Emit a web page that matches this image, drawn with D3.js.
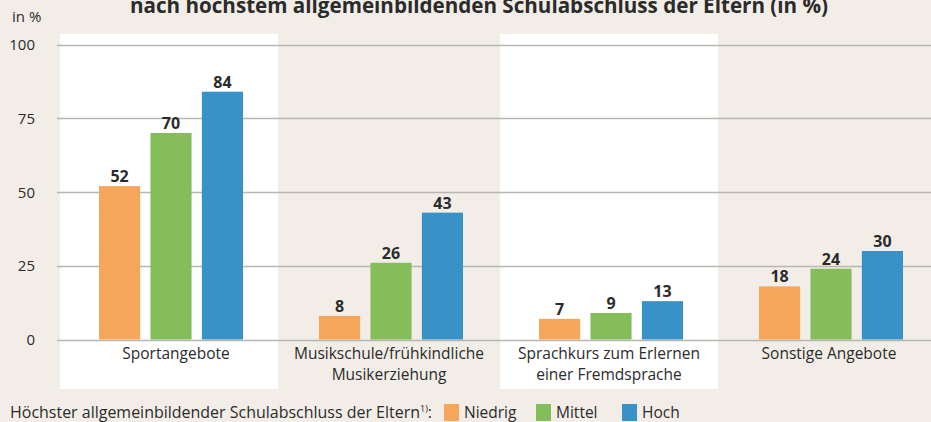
<!DOCTYPE html>
<html><head><meta charset="utf-8">
<script src="https://cdn.jsdelivr.net/npm/d3@7"></script>
<style>
html,body{margin:0;padding:0;background:#f2eee7;}
svg{display:block;}
text{font-family:"Open Sans","Noto Sans",sans-serif;fill:#2b2b2b;}
</style></head><body>
<svg id="c" width="931" height="422"></svg>
<script>
const categories = [["Sportangebote"],["Musikschule/frühkindliche","Musikerziehung"],["Sprachkurs zum Erlernen","einer Fremdsprache"],["Sonstige Angebote"]];
const seriesNames = ["Niedrig","Mittel","Hoch"];
const niedrig = [52, 8, 7, 18];
const mittel = [70, 26, 9, 24];
const hoch = [84, 43, 13, 30];
const yTicks = [0, 25, 50, 75, 100];
const colors = ["#f5a65a", "#84bd59", "#3891c7"];
const titleText = "nach höchstem allgemeinbildenden Schulabschluss der Eltern (in %)";
const legendTitle = "Höchster allgemeinbildender Schulabschluss der Eltern";

const series = [niedrig, mittel, hoch];
const svg = d3.select("#c");
const W = 931;

const x0 = d3.scaleBand().domain(d3.range(categories.length)).range([60, 940]).paddingInner(0).paddingOuter(0);
const y = d3.scaleLinear().domain([0, 100]).range([339.5, 44.5]);
const x1 = d3.scaleBand().domain(d3.range(series.length)).range([39, 183]).paddingInner(0.2).paddingOuter(0);

// white panels on alternating categories
svg.selectAll("rect.panel").data(d3.range(categories.length).filter(i => i % 2 === 0))
  .join("rect").attr("class","panel")
  .attr("x", i => x0(i)).attr("y", 34)
  .attr("width", 218).attr("height", 355)
  .attr("fill", "#ffffff");

// gridlines
svg.selectAll("line.grid").data(yTicks).join("line").attr("class","grid")
  .attr("x1", 57).attr("x2", W)
  .attr("y1", d => Math.round(y(d)) + 0.5).attr("y2", d => Math.round(y(d)) + 0.5)
  .attr("stroke", "#b8b6b2").attr("stroke-width", 1.5);

// y tick labels
svg.selectAll("text.ytick").data(yTicks).join("text").attr("class","ytick")
  .attr("x", 35).attr("y", d => y(d) + 5.5)
  .attr("text-anchor", "end").attr("font-size", 15)
  .text(d => d);

svg.append("text").attr("x", 12).attr("y", 22).attr("font-size", 15).text("in %");

// bars
const groups = svg.selectAll("g.cat").data(categories).join("g").attr("class","cat")
  .attr("transform", (d, i) => `translate(${x0(i)},0)`);

groups.each(function(cat, ci) {
  const g = d3.select(this);
  series.forEach((s, si) => {
    g.append("rect")
      .attr("x", x1(si)).attr("width", x1.bandwidth())
      .attr("y", y(s[ci])).attr("height", y(0) - y(s[ci]))
      .attr("fill", colors[si]);
    g.append("text")
      .attr("x", x1(si) + x1.bandwidth() / 2).attr("y", y(s[ci]) - 4)
      .attr("text-anchor", "middle").attr("font-size", 16).attr("font-weight", "bold")
      .text(s[ci]);
  });
  cat.forEach((line, li) => {
    g.append("text")
      .attr("x", 111 + (ci === 0 ? 5 : -2)).attr("y", 359 + li * 21)
      .attr("text-anchor", "middle").attr("font-size", 15.5)
      .text(line);
  });
});

// title (partially cut, as in the reference)
svg.append("text").attr("x", 130).attr("y", 13)
  .attr("font-size", 21).attr("font-weight", "bold")
  .attr("textLength", 698).attr("lengthAdjust", "spacingAndGlyphs")
  .text(titleText);

// legend
const lt = svg.append("text").attr("x", 10).attr("y", 418).attr("font-size", 16);
lt.append("tspan").attr("textLength", 410).attr("lengthAdjust", "spacingAndGlyphs").text(legendTitle);
lt.append("tspan").attr("font-size", 9).attr("dy", -6).text("1)");
lt.append("tspan").attr("dy", 6).text(":");

const legX = [444, 536, 622];
seriesNames.forEach((n, i) => {
  svg.append("rect").attr("x", legX[i]).attr("y", 404).attr("width", 15).attr("height", 17).attr("fill", colors[i]);
  svg.append("text").attr("x", legX[i] + 20).attr("y", 418).attr("font-size", 15.5).text(n);
});
</script>
</body></html>
